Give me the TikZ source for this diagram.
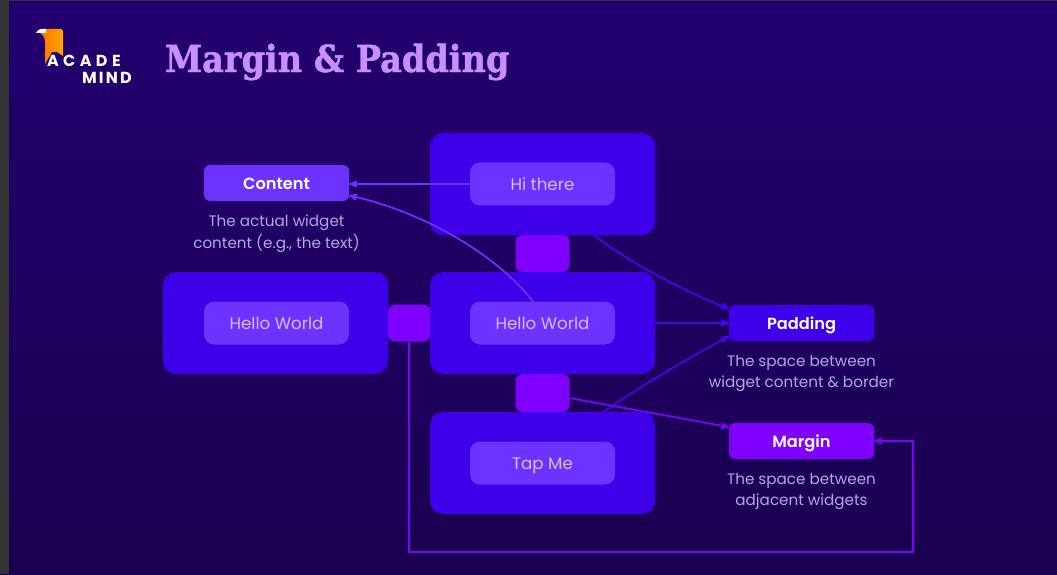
\documentclass[tikz,border=0pt]{standalone}
\usepackage{fontspec}
\setmainfont{Poppins}
\newfontfamily\titlefont[BoldFeatures={FakeBold=1.2}]{DejaVu Serif Condensed}
\newfontfamily\tagfont{Poppins SemiBold}
\usetikzlibrary{arrows,positioning,shadings}
\definecolor{bgtop}{HTML}{230070}
\definecolor{bgbottom}{HTML}{1A0050}
\definecolor{widgetblue}{HTML}{3D00E8}
\definecolor{contentviolet}{HTML}{6C33FF}
\definecolor{marginviolet}{HTML}{7F00FF}
\definecolor{paddingline}{HTML}{4A00F0}
\definecolor{captiontext}{HTML}{B7A3EE}
\definecolor{titleviolet}{HTML}{C78FFF}
\definecolor{innertext}{HTML}{D5BEFF}

\begin{document}
\begin{tikzpicture}[x=1pt,y=1pt,>=stealth',outer sep=0pt,font=\fontsize{15.2}{21.5}\selectfont]
		\tikzstyle{widget}=[rectangle, rounded corners=13pt, fill=widgetblue, minimum width=225pt, minimum height=102pt, inner sep=0pt]
		\tikzstyle{inner box}=[rectangle, rounded corners=10pt, fill=contentviolet, minimum width=145pt, minimum height=43pt, inner sep=0pt, text=innertext, text height=14pt, text depth=1pt, font=\fontsize{16.7}{20}\selectfont]
		\tikzstyle{gap}=[rectangle, rounded corners=7pt, fill=marginviolet, inner sep=0pt]
		\tikzstyle{tag}=[rectangle, rounded corners=6pt, minimum width=145pt, minimum height=36pt, inner sep=0pt, text=white, text height=14pt, text depth=1pt, font=\tagfont\fontsize{16.2}{18}\selectfont]
		\tikzstyle{caption}=[align=center, text=captiontext, inner sep=0pt]
		\tikzstyle{content line}=[->, line width=1.7pt, draw=contentviolet]
		\tikzstyle{padding line}=[->, line width=1.7pt, draw=paddingline]
		\tikzstyle{margin line}=[->, line width=1.7pt, draw=marginviolet]
		\tikzstyle{logo text}=[inner sep=0pt, anchor=west, text=white, font=\fontsize{16}{16}\selectfont\bfseries]

		\useasboundingbox (0,0) rectangle (1057,574);
		\shade[top color=bgtop, bottom color=bgbottom] (0,0) rectangle (1057,574);
		\fill[black!80] (0,0) rectangle (9,574);
		\fill[black!80] (0,573) rectangle (1057,574);

		% logo
		\shade[left color=orange!90!red, right color=orange!70!yellow] (45,545) -- (61,545) -- (63,543) -- (63,518) -- (57,522) -- (52,522) -- (45,510) -- (45,532) .. controls (45,537) and (42,540) .. (40,541) -- (45,541) -- cycle;
		\fill[white] (36,541) .. controls (38,545) and (41,545.5) .. (46,545) -- (46,541) -- cycle;
		\node[logo text] (acade) at (47,513) {A\kern4.4pt C\kern4.4pt A\kern4.4pt D\kern4.4pt E};
		\node[logo text] (mind) at (82,496) {M\kern2.2pt I\kern2.2pt N\kern2.2pt D};

		\node[inner sep=0pt, anchor=west, text=titleviolet, font=\titlefont\fontsize{37.3}{37}\selectfont\bfseries] (title) at (165,512) {Margin \& Padding};

		% widgets
		\node [widget] (boxMid) at (542.5,251) {};
		\node [gap, minimum width=54pt, minimum height=37pt] (gapTop) [above=0pt of boxMid] {};
		\node [widget] (boxTop) [above=0pt of gapTop] {};
		\node [gap, minimum width=54pt, minimum height=38pt] (gapBottom) [below=0pt of boxMid] {};
		\node [widget] (boxBottom) [below=0pt of gapBottom] {};
		\node [gap, minimum width=42pt, minimum height=37pt] (gapLeft) [left=0pt of boxMid] {};
		\node [widget] (boxLeft) [left=0pt of gapLeft] {};

		\node [inner box] (hiThere) at (boxTop) {Hi there};
		\node [inner box] (helloMid) at (boxMid) {Hello World};
		\node [inner box] (tapMe) at (boxBottom) {Tap Me};
		\node [inner box] (helloLeft) [xshift=1pt] at (boxLeft) {Hello World};

		% legend
		\node [tag, fill=contentviolet] (content) [above=100.5pt of helloLeft] {Content};
		\node [caption] (contentText) [below=14pt of content] {The actual widget\\content (e.g., the text)};
		\node [tag, fill=widgetblue] (padding) at (801.5,251) {Padding};
		\node [caption] (paddingText) [below=14pt of padding] {The space between\\widget content \& border};
		\node [tag, fill=marginviolet] (margin) [below=82pt of padding] {Margin};
		\node [caption] (marginText) [below=14pt of margin] {The space between\\adjacent widgets};

		\coordinate (loopDown) at (gapLeft.south |- 0,22);
		\coordinate (loopRight) at (913,22);
		\coordinate (loopUp) at (913,133);

		% connectors
		\draw [content line] (hiThere.west) -- (content.east |- hiThere.west);
		\draw [content line] (helloMid.north west) ++(63,0) coordinate (helloStart) to[out=128,in=-12,looseness=0.8] ([yshift=-12.5pt]content.east);
		\draw [padding line] (boxTop.south east) ++(-61,0) coordinate (topStart) to[out=-38,in=158,looseness=0.8] ([yshift=14pt]padding.west);
		\draw [padding line] (boxMid.east) -- (padding.west);
		\draw [padding line] (boxBottom.north east) ++(-52,0) coordinate (bottomStart) to[out=34,in=209] ([yshift=-13pt]padding.west);
		\draw [margin line] ([yshift=-5pt]gapBottom.east) -- ([yshift=14pt]margin.west);
		\draw [margin line] (gapLeft.south) -- (loopDown) -- (loopRight) -- (loopUp) -- (margin.east |- loopUp);
	\end{tikzpicture}
\end{document}
